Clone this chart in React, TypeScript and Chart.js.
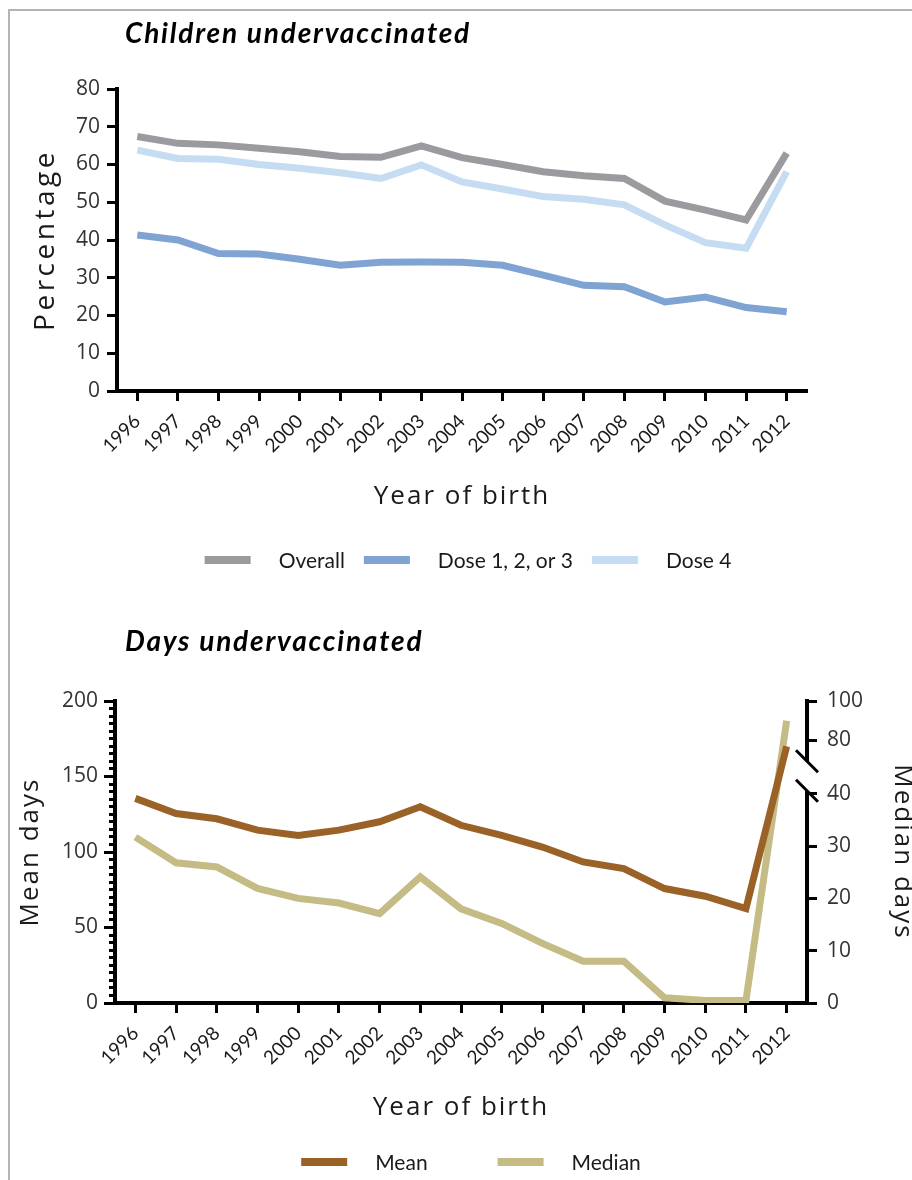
import React, { useEffect, useRef } from 'react';
import { Chart, registerables, LinearScale } from 'chart.js';

// ---------- data ----------
const years = ['1996', '1997', '1998', '1999', '2000', '2001', '2002', '2003', '2004', '2005', '2006', '2007', '2008', '2009', '2010', '2011', '2012'];
const overall = [67.4, 65.6, 65.2, 64.3, 63.4, 62.1, 61.9, 64.9, 61.8, 60.0, 58.1, 57.0, 56.3, 50.3, 47.9, 45.3, 63.0];
const dose123 = [41.3, 40.0, 36.4, 36.3, 34.9, 33.3, 34.1, 34.2, 34.1, 33.3, 30.7, 28.0, 27.6, 23.6, 24.9, 22.1, 21.0];
const dose4 = [63.8, 61.6, 61.4, 60.0, 59.0, 57.8, 56.3, 59.9, 55.4, 53.5, 51.5, 50.8, 49.3, 44.0, 39.3, 37.8, 58.1];
const meanDays = [135.5, 125.5, 122, 114.5, 111, 114.5, 120, 130, 117.7, 111, 103.3, 93.4, 89, 75.8, 70.7, 62.5, 170];
const medianDays = [31.7, 26.8, 26, 21.9, 20, 19.1, 17.1, 24.1, 18, 15.2, 11.4, 8, 8, 1, 0.5, 0.5, 90];
const medianTicks = [0, 10, 20, 30, 40, 80, 100];
const medianBreak = [40, 80];

const FONT_NUM = "'Open Sans', 'Noto Sans', sans-serif";
const FONT_NARROW = "Lato, 'Open Sans', sans-serif";
const FONT_TITLE = "italic bold 28px Lato, 'Open Sans', sans-serif";

// ---------- broken linear scale ----------
class BrokenLinearScale extends (LinearScale as any) {
  static id = 'brokenLinear';
  static defaults = (LinearScale as any).defaults;
  toDecimal(v: number) {
    const o: any = this.options;
    const [lo, hi] = o.breakValues;
    const [a, b] = o.breakFractions;
    const min = this.min, max = this.max;
    if (v <= lo) return ((v - min) / (lo - min)) * a;
    if (v >= hi) return b + ((v - hi) / (max - hi)) * (1 - b);
    return a + ((v - lo) / (hi - lo)) * (b - a);
  }
  getPixelForValue(value: any) {
    if (value === null || value === undefined || isNaN(value)) return NaN;
    return this.getPixelForDecimal(this.toDecimal(+value));
  }
  getValueForPixel(pixel: number) {
    const d = this.getDecimalForPixel(pixel);
    const o: any = this.options;
    const [lo, hi] = o.breakValues;
    const [a, b] = o.breakFractions;
    if (d <= a) return this.min + (d / a) * (lo - this.min);
    if (d >= b) return hi + ((d - b) / (1 - b)) * (this.max - hi);
    return lo + ((d - a) / (b - a)) * (hi - lo);
  }
}

Chart.register(...registerables);
Chart.register(BrokenLinearScale as any);

// ---------- decoration plugin ----------
const decorPlugin = {
  id: 'decor',
  afterDraw(chart: any, _args: any, opts: any) {
    const { ctx, chartArea: ca } = chart;
    ctx.save();
    if (opts.title) {
      const t = opts.title;
      ctx.save();
      ctx.font = t.font;
      ctx.fillStyle = '#000';
      try { (ctx as any).letterSpacing = t.spacing + 'px'; } catch (e) {}
      ctx.textAlign = 'left';
      ctx.textBaseline = 'alphabetic';
      ctx.fillText(t.text, ca.left + t.dx, ca.top + t.dy);
      ctx.restore();
    }
    for (const t of opts.axisTitles || []) {
      ctx.save();
      ctx.font = t.font;
      ctx.fillStyle = t.color;
      try { (ctx as any).letterSpacing = t.spacing + 'px'; } catch (e) {}
      ctx.textAlign = 'center';
      ctx.textBaseline = 'middle';
      let x = 0, y = 0, rot = 0;
      if (t.side === 'bottom') { x = (ca.left + ca.right) / 2; y = ca.bottom + t.offset; }
      else if (t.side === 'left') { x = ca.left - t.offset; y = (ca.top + ca.bottom) / 2; rot = -Math.PI / 2; }
      else { x = ca.right + t.offset; y = (ca.top + ca.bottom) / 2; rot = Math.PI / 2; }
      ctx.translate(x, y);
      ctx.rotate(rot);
      ctx.fillText(t.text, 0, 0);
      ctx.restore();
    }
    if (opts.legend) {
      const L = opts.legend;
      ctx.font = L.font;
      const items = chart.data.datasets.map((d: any) => ({ text: d.label, color: d.borderColor }));
      const widths = items.map((it: any) => L.boxW + L.textGap + ctx.measureText(it.text).width);
      const total = widths.reduce((s: number, w: number) => s + w, 0) + L.itemGap * (items.length - 1);
      let x = (ca.left + ca.right) / 2 + L.dx - total / 2;
      const y = ca.bottom + L.offset;
      items.forEach((it: any, i: number) => {
        ctx.fillStyle = it.color;
        ctx.fillRect(x, y - L.boxH / 2, L.boxW, L.boxH);
        ctx.fillStyle = L.color;
        ctx.textAlign = 'left';
        ctx.textBaseline = 'middle';
        ctx.fillText(it.text, x + L.boxW + L.textGap, y + 1);
        x += widths[i] + L.itemGap;
      });
    }
    if (opts.brokenAxis) {
      const B = opts.brokenAxis;
      const s = chart.scales[B.scaleId];
      const ax = Math.round(s.left);
      const yBottom = s.getPixelForValue(s.min) + 2;
      const yTop = s.getPixelForValue(s.max) - 2;
      const yLow = s.getPixelForValue(B.lowValue) + B.lowDy;
      const yHigh = s.getPixelForValue(B.highValue) + B.highDy;
      ctx.strokeStyle = '#000';
      ctx.lineWidth = B.width;
      ctx.lineCap = 'butt';
      ctx.beginPath();
      ctx.moveTo(ax, yBottom); ctx.lineTo(ax, yLow);
      ctx.moveTo(ax, yTop); ctx.lineTo(ax, yHigh);
      ctx.stroke();
      ctx.lineWidth = B.slashWidth;
      ctx.beginPath();
      for (const yy of [yLow, yHigh]) {
        ctx.moveTo(ax - B.slash, yy - B.slash);
        ctx.lineTo(ax + B.slash, yy + B.slash);
      }
      ctx.stroke();
    }
    ctx.restore();
  },
};

const xAxis = () => ({
  type: 'category',
  offset: true,
  grid: { offset: false, drawOnChartArea: false, tickLength: 10, tickWidth: 3, tickColor: '#000' },
  border: { color: '#000', width: 4 },
  ticks: {
    autoSkip: false, minRotation: 45, maxRotation: 45, padding: 9,
    color: '#1a1a1a', font: { family: FONT_NARROW, size: 19 },
  },
  afterFit: (s: any) => { s.height = 130; },
});

const commonDataset = {
  borderWidth: 7, pointRadius: 0, pointHoverRadius: 0, tension: 0, fill: false,
  borderJoinStyle: 'miter', borderCapStyle: 'butt',
};

function useChart(ref: any, config: any) {
  useEffect(() => {
    const chart = new Chart(ref.current, config);
    return () => chart.destroy();
  }, []);
}

function TopChart() {
  const ref = useRef<HTMLCanvasElement>(null);
  useChart(ref, {
    type: 'line',
    data: {
      labels: years,
      datasets: [
        { label: 'Overall', data: overall, borderColor: '#9b9b9f', backgroundColor: '#9b9b9f', ...commonDataset },
        { label: 'Dose 1, 2, or 3', data: dose123, borderColor: '#7fa3d3', backgroundColor: '#7fa3d3', ...commonDataset },
        { label: 'Dose 4', data: dose4, borderColor: '#c6dcf2', backgroundColor: '#c6dcf2', ...commonDataset },
      ],
    },
    options: {
      responsive: false, animation: false, devicePixelRatio: 1,
      layout: { padding: { top: 78, left: 0, right: 105, bottom: 85 } },
      events: [],
      scales: {
        x: xAxis(),
        y: {
          min: 0, max: 80,
          grid: { drawOnChartArea: false, tickLength: 10, tickWidth: 3, tickColor: '#000' },
          border: { color: '#000', width: 4 },
          ticks: { stepSize: 10, padding: 7, color: '#333', font: { family: FONT_NUM, size: 21 } },
          afterFit: (s: any) => { s.width = 107; },
        },
      },
      plugins: {
        legend: { display: false },
        tooltip: { enabled: false },
        decor: {
          title: { text: 'Children undervaccinated', font: FONT_TITLE, spacing: 1.8, dx: 8, dy: -46 },
          axisTitles: [
            { side: 'left', text: 'Percentage', offset: 71, font: `28px ${FONT_NUM}`, color: '#1a1a1a', spacing: 3.5 },
            { side: 'bottom', text: 'Year of birth', offset: 106, font: `26px ${FONT_NUM}`, color: '#1a1a1a', spacing: 2 },
          ],
          legend: { font: `21px ${FONT_NARROW}`, color: '#1a1a1a', boxW: 46, boxH: 8, textGap: 28, itemGap: 19, offset: 169, dx: 6 },
        },
      },
    },
    plugins: [decorPlugin],
  });
  return <canvas ref={ref} width={902} height={595} style={{ position: 'absolute', left: 0, top: 0 }} />;
}

function BottomChart() {
  const ref = useRef<HTMLCanvasElement>(null);
  useChart(ref, {
    type: 'line',
    data: {
      labels: years,
      datasets: [
        { label: 'Mean', data: meanDays, yAxisID: 'y', borderColor: '#9a6226', backgroundColor: '#9a6226', ...commonDataset },
        { label: 'Median', data: medianDays, yAxisID: 'y2', borderColor: '#c5bb84', backgroundColor: '#c5bb84', ...commonDataset },
      ],
    },
    options: {
      responsive: false, animation: false, devicePixelRatio: 1,
      layout: { padding: { top: 89, left: 0, right: 0, bottom: 47 } },
      events: [],
      scales: {
        x: xAxis(),
        y: {
          position: 'left',
          min: 0, max: 200,
          grid: {
            drawOnChartArea: false, tickLength: 11, tickWidth: 3, tickColor: '#000',
            tickBorderDash: (c: any) => (c.tick && c.tick.value % 50 !== 0 ? [0, 5, 40, 0] : []),
          },
          border: { color: '#000', width: 4 },
          ticks: {
            stepSize: 5, autoSkip: false, maxTicksLimit: 100, padding: 6,
            color: '#333', font: { family: FONT_NUM, size: 21 },
            callback: (v: any) => (v % 50 === 0 ? String(v) : ''),
          },
          afterFit: (s: any) => { s.width = 105; },
        },
        y2: {
          type: 'brokenLinear',
          position: 'right',
          min: 0, max: 100,
          breakValues: medianBreak,
          breakFractions: [0.693, 0.87],
          grid: { drawOnChartArea: false, tickLength: 10, tickWidth: 3, tickColor: '#000' },
          border: { display: false },
          ticks: { padding: 10, autoSkip: false, color: '#333', font: { family: FONT_NUM, size: 21 } },
          afterBuildTicks: (s: any) => { s.ticks = medianTicks.map((v) => ({ value: v })); },
          afterFit: (s: any) => { s.width = 105; },
        },
      },
      plugins: {
        legend: { display: false },
        tooltip: { enabled: false },
        decor: {
          title: { text: 'Days undervaccinated', font: FONT_TITLE, spacing: 1.8, dx: 10, dy: -50 },
          axisTitles: [
            { side: 'left', text: 'Mean days', offset: 84, font: `26px ${FONT_NUM}`, color: '#1a1a1a', spacing: 2 },
            { side: 'right', text: 'Median days', offset: 95, font: `26px ${FONT_NUM}`, color: '#1a1a1a', spacing: 2 },
            { side: 'bottom', text: 'Year of birth', offset: 105, font: `26px ${FONT_NUM}`, color: '#1a1a1a', spacing: 2 },
          ],
          legend: { font: `21px ${FONT_NARROW}`, color: '#1a1a1a', boxW: 46, boxH: 8, textGap: 28, itemGap: 70, offset: 159, dx: 10 },
          brokenAxis: { scaleId: 'y2', lowValue: 40, lowDy: -3, highValue: 80, highDy: 21, width: 4, slashWidth: 3, slash: 11 },
        },
      },
    },
    plugins: [decorPlugin],
  });
  return <canvas ref={ref} width={902} height={568} style={{ position: 'absolute', left: 0, top: 601 }} />;
}

export default function App() {
  return (
    <>
      <style>{'html { overflow: hidden; }'}</style>
      <div
        style={{
          position: 'absolute', left: 8, top: 9, width: 904, height: 1171, boxSizing: 'border-box',
          borderTop: '2px solid #b4b4b4', borderLeft: '2px solid #b4b4b4', background: '#fff', overflow: 'hidden',
        }}
      >
        <TopChart />
        <BottomChart />
      </div>
    </>
  );
}
